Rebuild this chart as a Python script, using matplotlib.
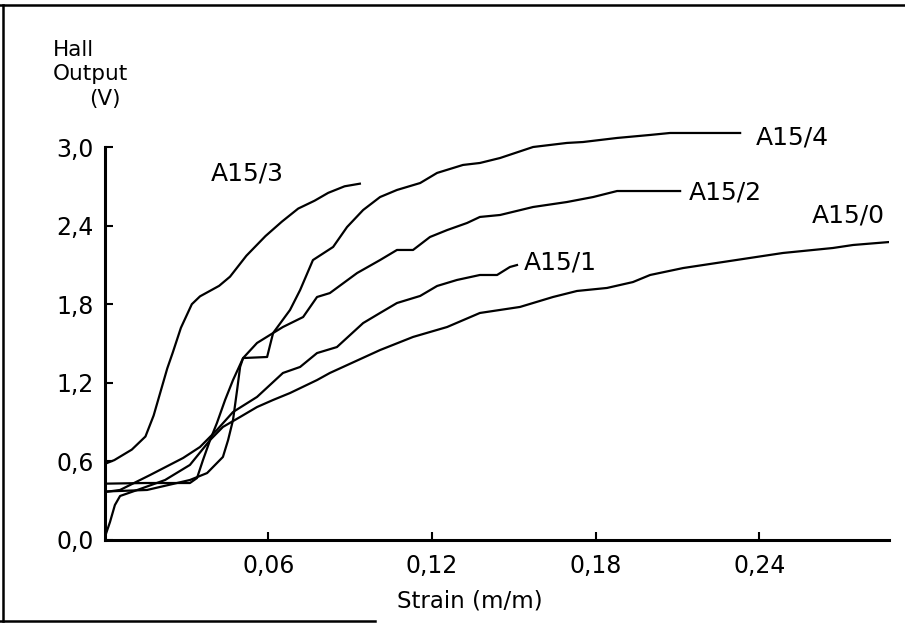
import matplotlib
matplotlib.use('Agg')
import matplotlib.pyplot as plt
from matplotlib.lines import Line2D

# curves (strain m/m, Hall output V)
a3_x = [0.0, 0.0036, 0.010, 0.015, 0.018, 0.0205, 0.023, 0.025, 0.028, 0.032, 0.035,
        0.042, 0.046, 0.052, 0.059, 0.065, 0.071, 0.077, 0.082, 0.088, 0.0936]
a3_y = [0.58, 0.61, 0.69, 0.79, 0.95, 1.13, 1.31, 1.43, 1.62, 1.80, 1.86,
        1.94, 2.01, 2.17, 2.32, 2.43, 2.53, 2.59, 2.65, 2.70, 2.72]

a4_x = [0.0, 0.0150, 0.0313, 0.0339, 0.0361, 0.0387, 0.0412, 0.0442, 0.0471, 0.0508,
        0.0559, 0.0618, 0.0680, 0.0717, 0.0764, 0.0838, 0.0889, 0.0948, 0.1010, 0.1072,
        0.1157, 0.1219, 0.1314, 0.1376, 0.1450, 0.1571, 0.1695, 0.1754, 0.1879, 0.2000,
        0.2073, 0.2330]
a4_y = [0.43, 0.435, 0.435, 0.473, 0.611, 0.763, 0.893, 1.069, 1.221, 1.389,
        1.504, 1.580, 1.756, 1.908, 2.137, 2.237, 2.389, 2.519, 2.618, 2.672,
        2.725, 2.802, 2.863, 2.878, 2.916, 3.000, 3.031, 3.038, 3.069, 3.092,
        3.107, 3.107]

a2_x = [0.0, 0.0156, 0.0313, 0.0376, 0.0434, 0.0453, 0.0471, 0.0486, 0.0497, 0.0508,
        0.0596, 0.0607, 0.0618, 0.0654, 0.0728, 0.0779, 0.0826, 0.0926, 0.1010, 0.1072,
        0.1131, 0.1193, 0.1256, 0.1329, 0.1376, 0.1450, 0.1571, 0.1695, 0.1791, 0.1879,
        0.2110]
a2_y = [0.37, 0.382, 0.458, 0.511, 0.634, 0.763, 0.916, 1.145, 1.321, 1.389,
        1.397, 1.489, 1.580, 1.626, 1.702, 1.855, 1.885, 2.038, 2.137, 2.214,
        2.214, 2.313, 2.366, 2.420, 2.466, 2.481, 2.542, 2.580, 2.618, 2.664,
        2.664]

a1_x = [0.0, 0.0057, 0.0167, 0.0288, 0.0350, 0.0412, 0.0471, 0.0559, 0.0654, 0.0717,
        0.0779, 0.0852, 0.0948, 0.1010, 0.1072, 0.1157, 0.1219, 0.1292, 0.1376, 0.1439,
        0.1486, 0.1512]
a1_y = [0.366, 0.382, 0.496, 0.626, 0.710, 0.840, 0.977, 1.092, 1.275, 1.321,
        1.427, 1.473, 1.656, 1.733, 1.809, 1.863, 1.939, 1.985, 2.023, 2.023,
        2.084, 2.099]

a0_x = [0.0, 0.0020, 0.0038, 0.0057, 0.0130, 0.0222, 0.0313, 0.0387, 0.0434, 0.0497,
        0.0559, 0.0618, 0.0680, 0.0779, 0.0826, 0.1010, 0.1131, 0.1256, 0.1376, 0.1523,
        0.1644, 0.1732, 0.1842, 0.1937, 0.2000, 0.2121, 0.2245, 0.2366, 0.2487, 0.2670,
        0.2744, 0.2879]
a0_y = [0.015, 0.137, 0.267, 0.336, 0.389, 0.458, 0.573, 0.763, 0.863, 0.939,
        1.015, 1.069, 1.122, 1.221, 1.275, 1.450, 1.550, 1.626, 1.733, 1.779,
        1.855, 1.901, 1.924, 1.969, 2.023, 2.076, 2.115, 2.153, 2.191, 2.229,
        2.252, 2.275]

curve_names = ['A15/3', 'A15/4', 'A15/2', 'A15/1', 'A15/0']
label_pos = [(0.0522, 2.80), (0.252, 3.075), (0.2275, 2.656), (0.167, 2.12), (0.2725, 2.48)]

yticks = [0.0, 0.6, 1.2, 1.8, 2.4, 3.0]
ytick_labels = ['0,0', '0,6', '1,2', '1,8', '2,4', '3,0']
xticks = [0.06, 0.12, 0.18, 0.24]
xtick_labels = ['0,06', '0,12', '0,18', '0,24']

plt.rcParams['font.family'] = ['DejaVu Sans']

fig = plt.figure(figsize=(9.05, 6.25), dpi=100)
ax = fig.add_axes([0.1155, 0.136, 0.8663, 0.7336])

for xs, ys in [(a3_x, a3_y), (a4_x, a4_y), (a2_x, a2_y), (a1_x, a1_y), (a0_x, a0_y)]:
    ax.plot(xs, ys, color='black', lw=1.6)

for name, (lx, ly) in zip(curve_names, label_pos):
    ax.text(lx, ly, name, fontsize=18, ha='center', va='center')

ax.set_xlim(0, 0.2874)
ax.set_ylim(0, 3.5)
ax.spines['top'].set_visible(False)
ax.spines['right'].set_visible(False)
ax.spines['left'].set_bounds(0, 3.0)
ax.spines['left'].set_linewidth(2.2)
ax.spines['bottom'].set_linewidth(2.2)

ax.set_yticks(yticks)
ax.set_yticklabels(ytick_labels)
ax.set_xticks(xticks)
ax.set_xticklabels(xtick_labels)
ax.tick_params(direction='in', length=6, width=1.5, labelsize=17)
ax.tick_params(axis='y', pad=8)
ax.tick_params(axis='x', pad=10)

fig.text(470 / 905, 1 - 601 / 625, 'Strain (m/m)', fontsize=16.5, ha='center', va='center')
fig.text(53 / 905, 1 - 50 / 625, 'Hall', fontsize=15.5, ha='left', va='center')
fig.text(53 / 905, 1 - 74 / 625, 'Output', fontsize=15.5, ha='left', va='center')
fig.text(105 / 905, 1 - 99 / 625, '(V)', fontsize=15.5, ha='center', va='center')

# scanned page border
fig.add_artist(Line2D([0.0, 1.0], [1 - 5 / 625, 1 - 5 / 625], color='black', lw=1.8))
fig.add_artist(Line2D([3 / 905, 3 / 905], [1 - 5 / 625, 1 - 621 / 625], color='black', lw=1.8))
fig.add_artist(Line2D([0.0, 375 / 905], [1 - 621 / 625, 1 - 621 / 625], color='black', lw=1.8))

fig.savefig('out.png', dpi=100)
